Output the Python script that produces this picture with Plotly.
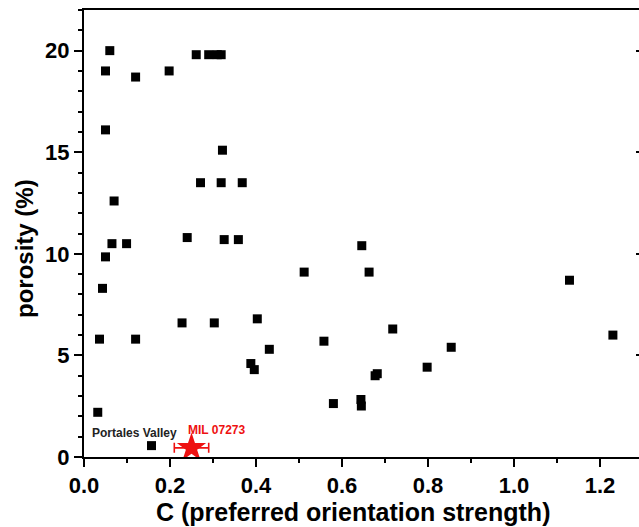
import plotly.graph_objects as go

# Data
c_values = [0.060, 0.050, 0.120, 0.198, 0.261, 0.290, 0.310, 0.319, 0.050, 0.322,
            0.271, 0.319, 0.368, 0.070, 0.065, 0.099, 0.240, 0.326, 0.359, 0.050,
            0.043, 0.036, 0.120, 0.228, 0.303, 0.403, 0.431, 0.388, 0.396, 0.032,
            0.157, 0.512, 0.646, 0.663, 1.129, 0.718, 0.558, 1.230, 0.854, 0.798,
            0.677, 0.682, 0.580, 0.644, 0.645]
porosity = [20.0, 19.0, 18.7, 19.0, 19.8, 19.8, 19.8, 19.8, 16.1, 15.1,
            13.5, 13.5, 13.5, 12.6, 10.5, 10.5, 10.8, 10.7, 10.7, 9.85,
            8.3, 5.8, 5.8, 6.6, 6.6, 6.8, 5.3, 4.6, 4.3, 2.2,
            0.56, 9.1, 10.4, 9.1, 8.7, 6.3, 5.7, 6.0, 5.4, 4.42,
            4.0, 4.1, 2.63, 2.83, 2.51]

mil_c = [0.25]
mil_porosity = [0.45]
mil_c_err = [0.04]

x_ticks = [0.0, 0.2, 0.4, 0.6, 0.8, 1.0, 1.2]
y_ticks = [0, 5, 10, 15, 20]

FONT = "Liberation Sans, Arial, sans-serif"

fig = go.Figure()
fig.add_trace(go.Scatter(
    x=c_values, y=porosity, mode="markers",
    marker=dict(symbol="square", size=9, color="black"),
    showlegend=False, hoverinfo="skip"))
fig.add_trace(go.Scatter(
    x=mil_c, y=mil_porosity, mode="markers",
    marker=dict(symbol="star", size=22, color="#ee1111", line=dict(width=0)),
    error_x=dict(type="data", array=mil_c_err, color="#ee1111", thickness=1.6, width=5),
    showlegend=False, hoverinfo="skip"))
# invisible trace for the right-hand tick axis
fig.add_trace(go.Scatter(x=[0], y=[0], yaxis="y2", mode="markers",
                         marker=dict(opacity=0), showlegend=False, hoverinfo="skip"))

fig.update_layout(
    width=639, height=527,
    margin=dict(l=84, r=0, t=10, b=70),
    paper_bgcolor="white", plot_bgcolor="white",
    font=dict(family=FONT, color="black"),
    xaxis=dict(range=[0, 555 / 430], tickvals=x_ticks, tickformat=".1f",
               showline=True, linewidth=2, linecolor="black", mirror=True,
               ticks="outside", ticklen=8, tickwidth=1.5, tickcolor="black",
               minor=dict(ticks="outside", ticklen=4, tickwidth=1.5, dtick=0.1, tick0=0, tickcolor="black"),
               showgrid=False, zeroline=False,
               tickfont=dict(size=22, family=FONT, weight="bold")),
    yaxis=dict(range=[0, 22], tickvals=y_ticks,
               showline=True, linewidth=2, linecolor="black", mirror=False,
               ticks="outside", ticklen=8, tickwidth=1.5, tickcolor="black",
               minor=dict(ticks="outside", ticklen=4, tickwidth=1.5, dtick=1, tick0=0, tickcolor="black"),
               showgrid=False, zeroline=False,
               tickfont=dict(size=22, family=FONT, weight="bold")),
    yaxis2=dict(range=[0, 22], overlaying="y", side="right", anchor="x",
                tickvals=y_ticks, ticks="inside", ticklen=3, tickwidth=1.5,
                tickcolor="black", showticklabels=False, showline=False,
                showgrid=False, zeroline=False),
    annotations=[
        dict(text="<b>C (preferred orientation strength)</b>", xref="paper", yref="paper",
             x=(353 - 84) / 555, y=-(512 - 457) / 447, xanchor="center", yanchor="middle",
             showarrow=False, font=dict(size=25, family=FONT, color="black")),
        dict(text="<b>porosity (%)</b>", xref="paper", yref="paper", textangle=-90,
             x=-(84 - 24) / 555, y=(457 - 249) / 447, xanchor="center", yanchor="middle",
             showarrow=False, font=dict(size=24, family=FONT, color="black")),
        dict(text="<b>Portales Valley</b>", x=0.118, y=1.2, xref="x", yref="y",
             showarrow=False, font=dict(size=12, family=FONT, color="#222222")),
        dict(text="<b>MIL 07273</b>", x=0.307, y=1.35, xref="x", yref="y",
             showarrow=False, font=dict(size=12, family=FONT, color="#ee1111")),
    ],
)

fig.write_html("out.html")
